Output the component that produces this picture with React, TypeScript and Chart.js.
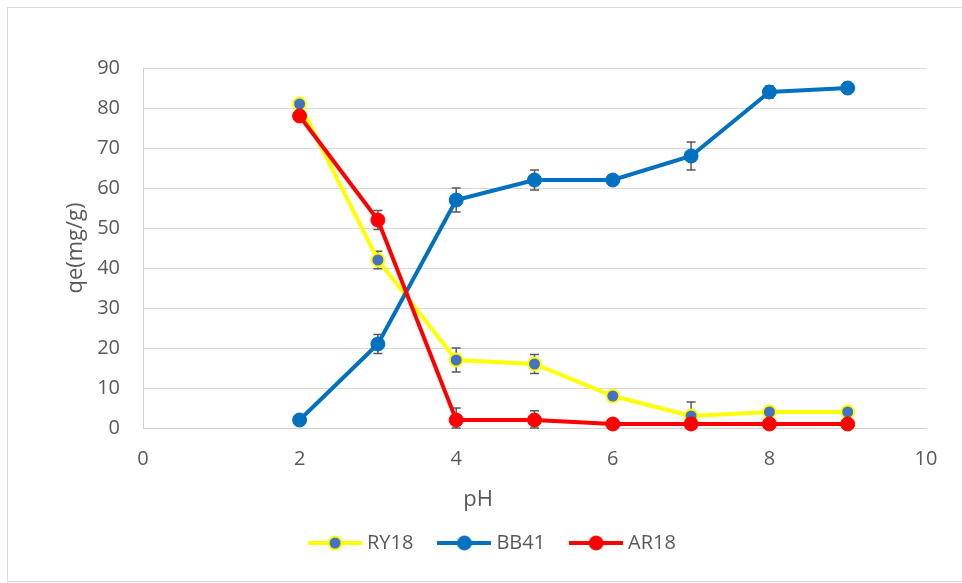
import React, { useEffect, useRef } from "react";
import { Chart, registerables } from "chart.js";

Chart.register(...registerables);

// ---- data ----
const phValues = [2, 3, 4, 5, 6, 7, 8, 9];
const seriesNames = ["RY18", "BB41", "AR18"];
const ry18 = [81, 42, 17, 16, 8, 3, 4, 4];
const ry18Err = [0, 2.2, 3, 2.4, 0.8, 3.5, 1.2, 0.5];
const bb41 = [2, 21, 57, 62, 62, 68, 84, 85];
const bb41Err = [0, 2.4, 3, 2.5, 0.5, 3.5, 1.5, 0.5];
const ar18 = [78, 52, 2, 2, 1, 1, 1, 1];
const ar18Err = [0, 2.4, 3, 2.3, 0.3, 0.3, 0.3, 0.3];
const xTickValues = [0, 2, 4, 6, 8, 10];
const yTickValues = [0, 10, 20, 30, 40, 50, 60, 70, 80, 90];
const xTitle = "pH";
const yTitle = "qe(mg/g)";

const TEXT = "#595959";
const FONT = "'Open Sans', sans-serif";

const styles = [
  { line: "#FFFF00", fill: "#4472C4", stroke: "#FFFF00", r: 6.5, bw: 2 },
  { line: "#0070C0", fill: "#0070C0", stroke: "#0070C0", r: 7, bw: 1 },
  { line: "#FF0000", fill: "#FF0000", stroke: "#FF0000", r: 7, bw: 1 },
];

function legendIcon(s: typeof styles[number]) {
  const c = document.createElement("canvas");
  c.width = 54;
  c.height = 18;
  const g = c.getContext("2d")!;
  g.strokeStyle = s.line;
  g.lineWidth = 4;
  g.beginPath();
  g.moveTo(0, 9);
  g.lineTo(54, 9);
  g.stroke();
  g.beginPath();
  g.arc(27, 9, s.r, 0, Math.PI * 2);
  g.fillStyle = s.fill;
  g.fill();
  g.lineWidth = s.bw;
  g.strokeStyle = s.stroke;
  g.stroke();
  return c;
}

const errorBarPlugin = {
  id: "errorBars",
  beforeDatasetsDraw(chart: any) {
    const { ctx } = chart;
    const xs = chart.scales.x;
    const ys = chart.scales.y;
    ctx.save();
    ctx.strokeStyle = "#595959";
    ctx.lineWidth = 1.5;
    chart.data.datasets.forEach((ds: any) => {
      const errs: number[] = ds.errors || [];
      ds.data.forEach((pt: any, j: number) => {
        const e = errs[j];
        if (!e) return;
        const px = xs.getPixelForValue(pt.x);
        const t = ys.getPixelForValue(pt.y + e);
        const b = ys.getPixelForValue(Math.max(0, pt.y - e));
        ctx.beginPath();
        ctx.moveTo(px, t);
        ctx.lineTo(px, b);
        ctx.moveTo(px - 4.5, t);
        ctx.lineTo(px + 4.5, t);
        ctx.moveTo(px - 4.5, b);
        ctx.lineTo(px + 4.5, b);
        ctx.stroke();
      });
    });
    ctx.restore();
  },
};

const xTitlePlugin = {
  id: "xTitle",
  afterDraw(chart: any) {
    const { ctx } = chart;
    const xs = chart.scales.x;
    ctx.save();
    ctx.font = `22px ${FONT}`;
    ctx.fillStyle = TEXT;
    ctx.textAlign = "center";
    ctx.textBaseline = "middle";
    ctx.fillText(xTitle, xs.left + (xs.right - xs.left) * 0.428, xs.top + 72);
    ctx.restore();
  },
};

export default function App() {
  const ref = useRef<HTMLCanvasElement>(null);
  useEffect(() => {
    const mk = (vals: number[]) => vals.map((v, i) => ({ x: phValues[i], y: v }));
    const values = [ry18, bb41, ar18];
    const errors = [ry18Err, bb41Err, ar18Err];
    const orders = [2, 1, 0];
    const datasets = seriesNames.map((name, i) => ({
      label: name,
      data: mk(values[i]),
      errors: errors[i],
      order: orders[i],
      borderColor: styles[i].line,
      backgroundColor: styles[i].fill,
      borderWidth: 4,
      pointRadius: styles[i].r,
      pointHoverRadius: styles[i].r,
      pointBackgroundColor: styles[i].fill,
      pointBorderColor: styles[i].stroke,
      pointBorderWidth: styles[i].bw,
      tension: 0,
      clip: false as any,
    }));
    const icons = styles.map(legendIcon);

    const chart = new Chart(ref.current!, {
      type: "line",
      data: { datasets },
      plugins: [errorBarPlugin, xTitlePlugin],
      options: {
        responsive: false,
        devicePixelRatio: 1,
        animation: false,
        events: [],
        font: { family: FONT },
        layout: { padding: { left: 63, right: 36, top: 68, bottom: 20 } },
        plugins: {
          tooltip: { enabled: false },
          legend: {
            position: "bottom",
            labels: {
              usePointStyle: true,
              pointStyleWidth: 44,
              padding: 29,
              color: TEXT,
              font: { family: FONT, size: 20 },
              generateLabels: () =>
                seriesNames.map((name, i) => ({
                  text: name,
                  datasetIndex: i,
                  pointStyle: icons[i],
                  fillStyle: "transparent",
                  strokeStyle: "transparent",
                  lineWidth: 0,
                  hidden: false,
                  fontColor: TEXT,
                })),
            },
          },
        },
        scales: {
          x: {
            type: "linear",
            min: 0,
            max: 10,
            afterBuildTicks: (s: any) => {
              s.ticks = xTickValues.map((v) => ({ value: v }));
            },
            afterFit: (s: any) => {
              s.height = 76;
            },
            ticks: {
              color: TEXT,
              font: { family: FONT, size: 20 },
              padding: 19,
              maxRotation: 0,
            },
            grid: { display: false, drawTicks: false },
            border: { display: true, color: "#d0d0d0", width: 1 },
          },
          y: {
            type: "linear",
            min: 0,
            max: 90,
            afterBuildTicks: (s: any) => {
              s.ticks = yTickValues.map((v) => ({ value: v }));
            },
            afterFit: (s: any) => {
              s.width = 80;
            },
            ticks: {
              color: TEXT,
              font: { family: FONT, size: 20 },
              padding: 23,
            },
            grid: { color: "#d9d9d9", lineWidth: 1, drawTicks: false },
            border: { display: true, color: "#d0d0d0", width: 1 },
            title: {
              display: true,
              text: yTitle,
              color: TEXT,
              font: { family: FONT, size: 22 },
              padding: 0,
            },
          },
        },
      },
    } as any);
    return () => chart.destroy();
  }, []);

  return (
    <div
      style={{
        position: "fixed",
        left: 0,
        top: 0,
        width: 962,
        height: 583,
        overflow: "hidden",
        background: "#fff",
      }}
    >
      <div
        style={{
          position: "absolute",
          left: 7,
          top: 7,
          width: 1000,
          height: 575,
          border: "1px solid #d9d9d9",
          boxSizing: "border-box",
        }}
      />
      <canvas
        ref={ref}
        width={962}
        height={583}
        style={{ position: "absolute", left: 0, top: 0, width: 962, height: 583 }}
      />
    </div>
  );
}
